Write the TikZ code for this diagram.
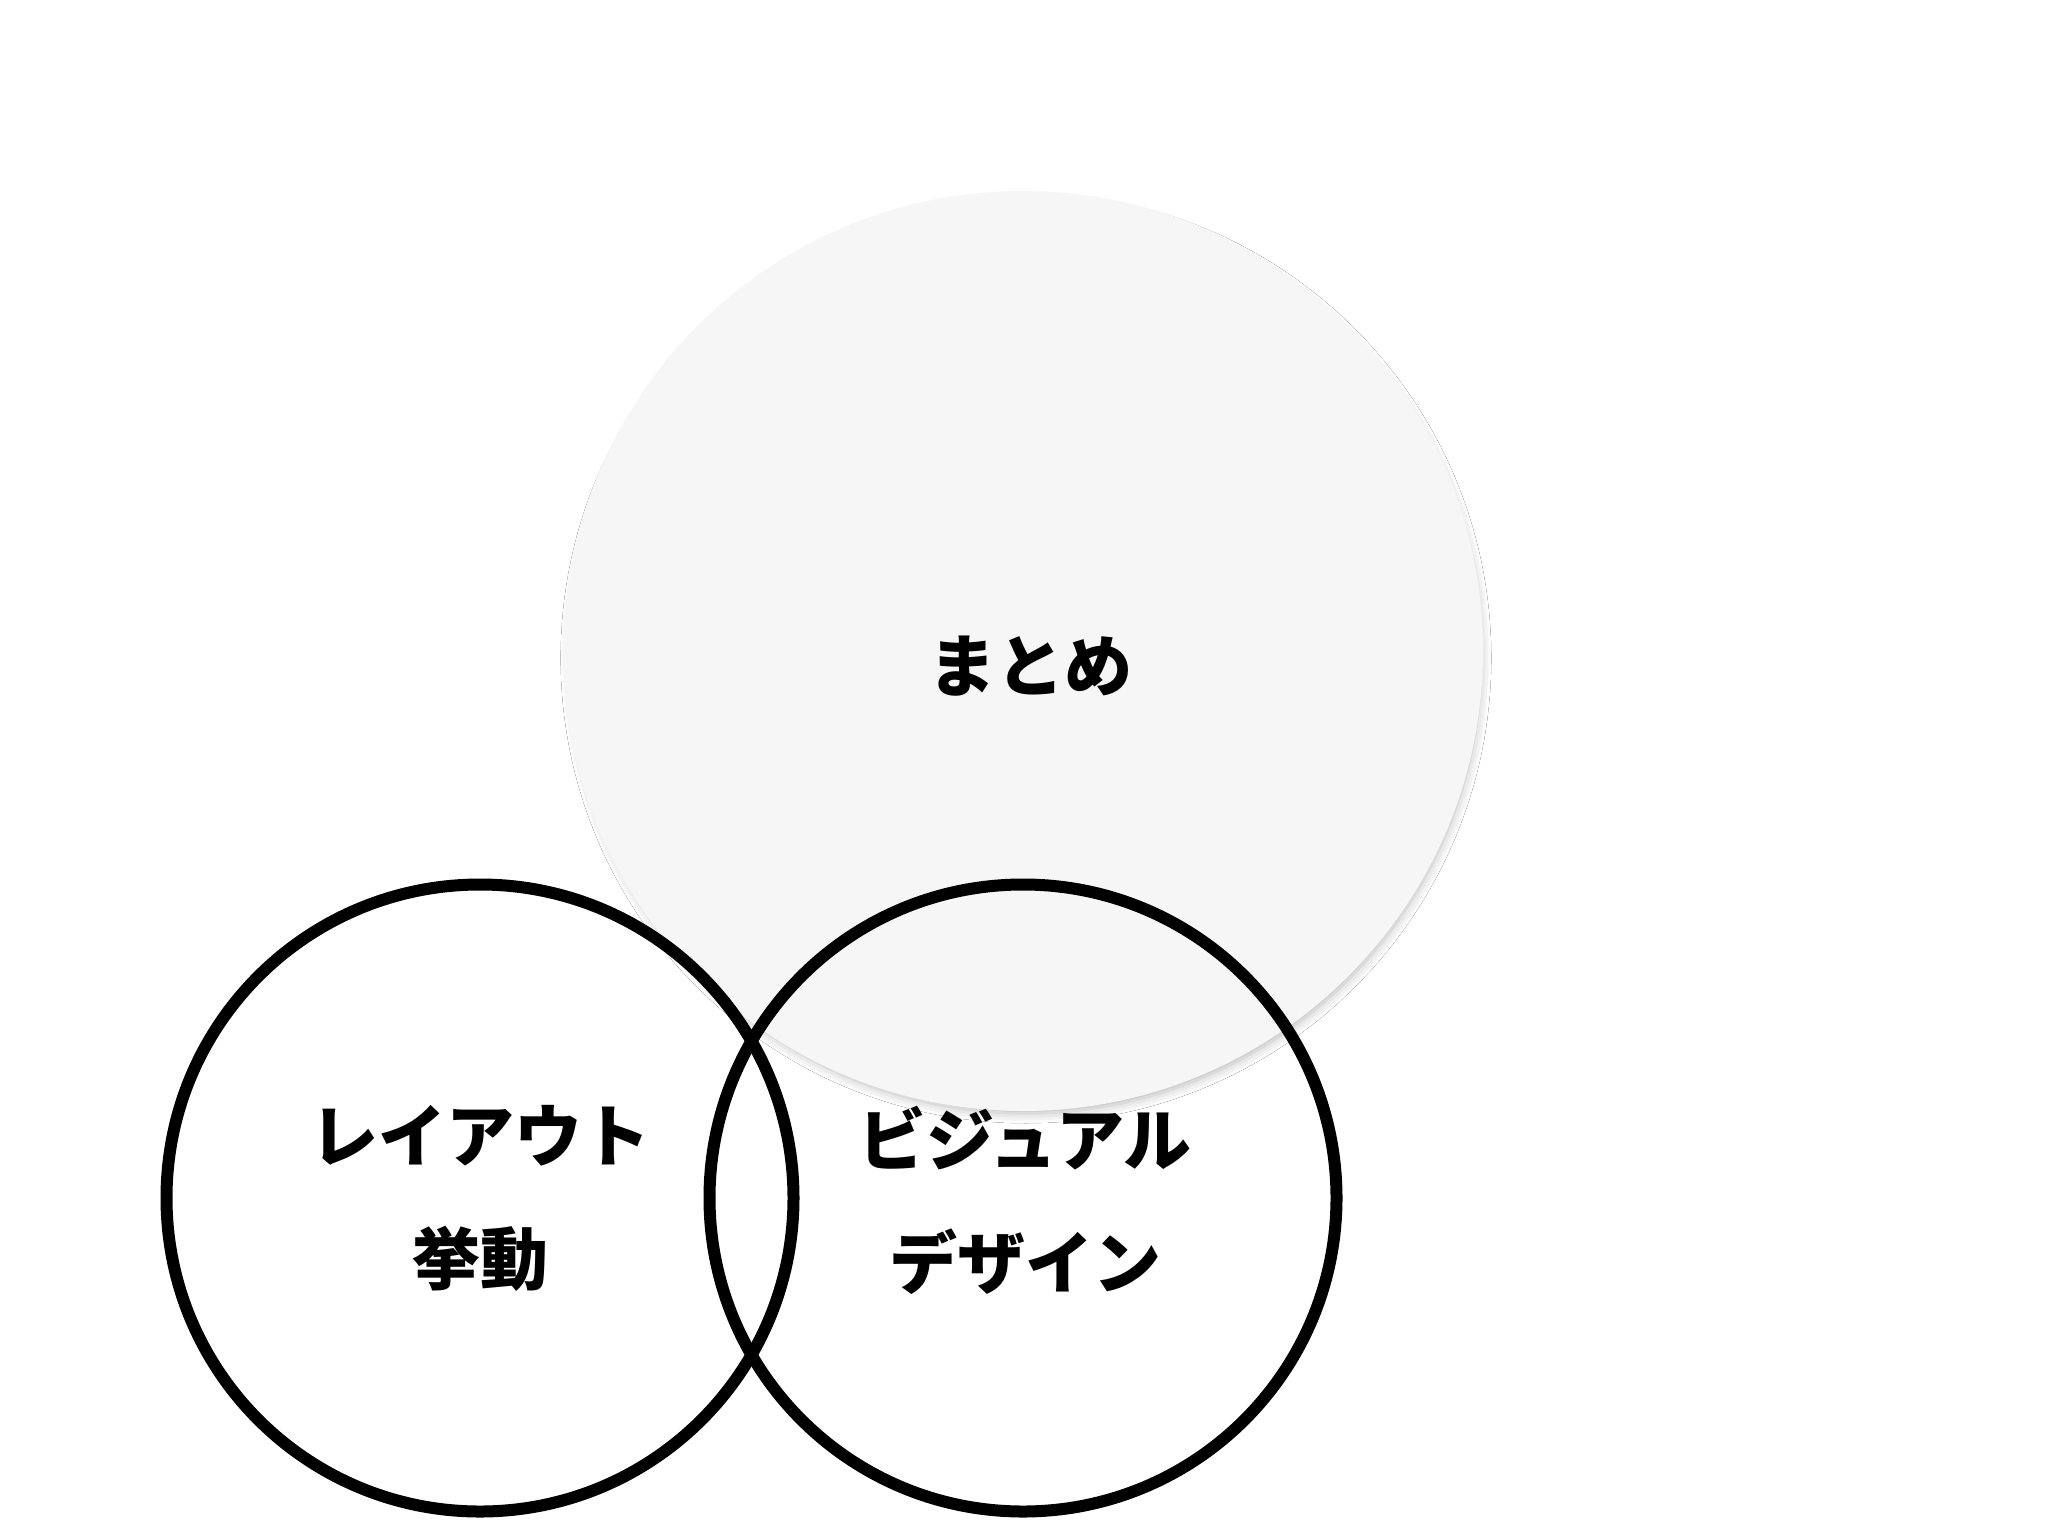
\documentclass[tikz,border=0pt]{standalone}
\usepackage{fontspec}
\newfontfamily\jpfont{Noto Sans CJK JP}
\usetikzlibrary{shadows.blur}
\definecolor{bigfill}{RGB}{246,246,246}
\tikzset{
  bigcircle/.style={circle, inner sep=0pt, minimum size=460pt, fill=bigfill,
    blur shadow={shadow scale=0.99, shadow xshift=1.5pt, shadow yshift=-3.5pt, shadow blur radius=5pt, shadow opacity=28}},
  ringcircle/.style={circle, inner sep=0pt, minimum size=313.5pt, draw=black, line width=6pt},
  label/.style={font=\jpfont\bfseries\fontsize{34pt}{61.5pt}\selectfont, align=center, inner sep=0pt, text=black}
}
\begin{document}
\begin{tikzpicture}[x=0.5pt, y=-0.5pt]
\fill[white] (0,0) rectangle (2048,1536);
\useasboundingbox (0,0) rectangle (2048,1536);
\node[bigcircle] (big) at (1023,651) {};
\node[ringcircle] (left) at (480,1198) {};
\node[ringcircle] (right) at (1023,1198) {};
\node[label] (tbig) at (1030,666) {まとめ};
\node[label] (tleft) at (480,1198) {レイアウト\\挙動};
\node[label] (tright) at (1025,1200) {ビジュアル\\デザイン};
\end{tikzpicture}
\end{document}
